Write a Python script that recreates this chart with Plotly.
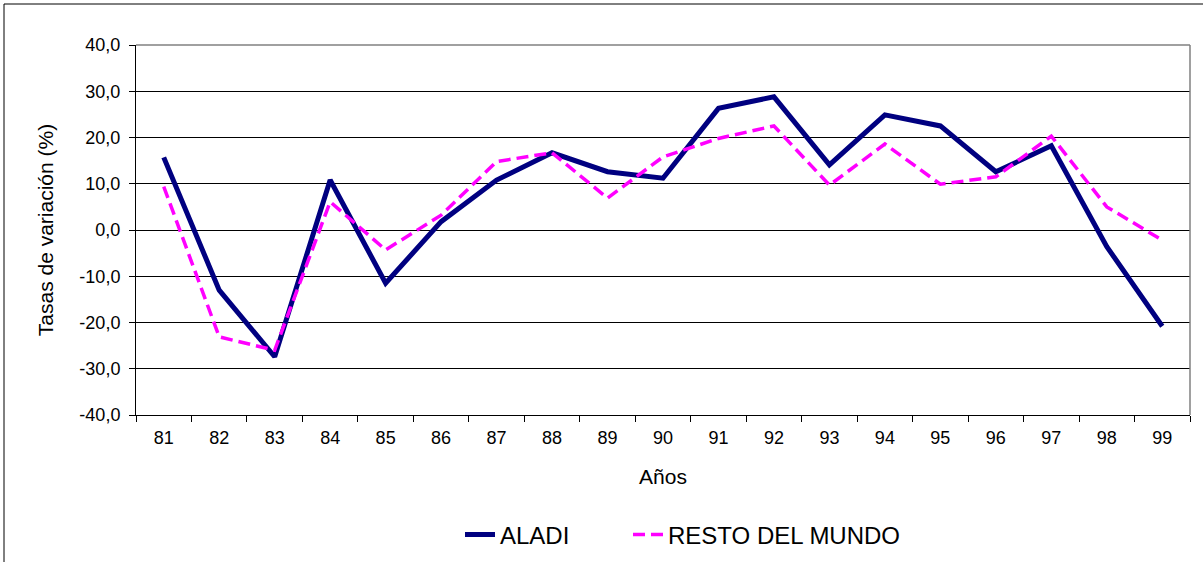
import plotly.graph_objects as go

years = ["81", "82", "83", "84", "85", "86", "87", "88", "89", "90",
         "91", "92", "93", "94", "95", "96", "97", "98", "99"]
aladi = [15.7, -13.0, -27.4, 10.8, -11.5, 1.8, 10.8, 16.7, 12.6, 11.2,
         26.3, 28.8, 14.1, 24.9, 22.5, 12.6, 18.2, -3.6, -20.8]
resto = [9.4, -23.1, -26.0, 6.1, -4.3, 3.2, 14.8, 16.7, 6.9, 15.8,
         19.8, 22.5, 9.7, 18.6, 9.9, 11.5, 20.3, 5.0, -2.2]
y_ticks = [-40, -30, -20, -10, 0, 10, 20, 30, 40]
y_labels = ["-40,0", "-30,0", "-20,0", "-10,0", "0,0", "10,0", "20,0", "30,0", "40,0"]

FONT = "Liberation Sans, Arial, sans-serif"

fig = go.Figure()
fig.add_trace(go.Scatter(x=years, y=aladi, mode="lines", name="ALADI",
                         legend="legend",
                         line=dict(color="#000080", width=5)))
fig.add_trace(go.Scatter(x=years, y=resto, mode="lines", name="RESTO DEL MUNDO",
                         legend="legend2",
                         line=dict(color="#FF00FF", width=3.5, dash="12px,6px")))

L, R, T, B = 136, 13, 45, 147
W, H = 1203, 562
pw, ph = W - L - R, H - T - B

legend_common = dict(orientation="h", xanchor="left",
                     y=(H - B - 535) / ph, yanchor="middle",
                     font=dict(size=24, family=FONT), bgcolor="rgba(0,0,0,0)")

fig.update_layout(
    width=W, height=H,
    margin=dict(l=L, r=R, t=T, b=B, autoexpand=False),
    paper_bgcolor="white", plot_bgcolor="white",
    font=dict(family=FONT, color="black", size=18),
    showlegend=True,
    legend=dict(x=(460 - L) / pw, **legend_common),
    legend2=dict(x=(628 - L) / pw, **legend_common),
    xaxis=dict(type="category", range=[-0.5, 18.5], tickson="boundaries",
               ticks="outside", ticklen=6, tickcolor="black", tickwidth=1,
               ticklabelstandoff=6,
               showline=True, linecolor="black", linewidth=1,
               showgrid=False, zeroline=False,
               tickfont=dict(size=18, family=FONT),
               title=dict(text="Años", font=dict(size=21, family=FONT), standoff=22)),
    yaxis=dict(range=[-40, 40], tickvals=y_ticks, ticktext=y_labels,
               ticks="outside", ticklen=6, tickcolor="black", tickwidth=1,
               ticklabelstandoff=5,
               showline=True, linecolor="black", linewidth=1,
               showgrid=True, gridcolor="black", gridwidth=1, zeroline=False,
               tickfont=dict(size=18, family=FONT),
               title=dict(text="Tasas de variación (%)", font=dict(size=21, family=FONT),
                          standoff=20)),
    shapes=[
        # grey plot-area border (top and right)
        dict(type="line", xref="paper", yref="paper", x0=0, x1=1, y0=1, y1=1,
             line=dict(color="#808080", width=1.5), layer="above"),
        dict(type="line", xref="paper", yref="paper", x0=1, x1=1, y0=0, y1=1,
             line=dict(color="#808080", width=1.5), layer="above"),
        # outer chart frame
        dict(type="rect", xref="paper", yref="paper",
             x0=(4 - L) / pw, x1=(W + 5 - L) / pw,
             y0=-1.0, y1=(H - B - 4) / ph,
             line=dict(color="black", width=1), layer="below"),
    ],
)

fig.write_html("out.html", config={"displayModeBar": False},
               post_script="document.body.style.margin='0';document.body.style.overflow='hidden';")
